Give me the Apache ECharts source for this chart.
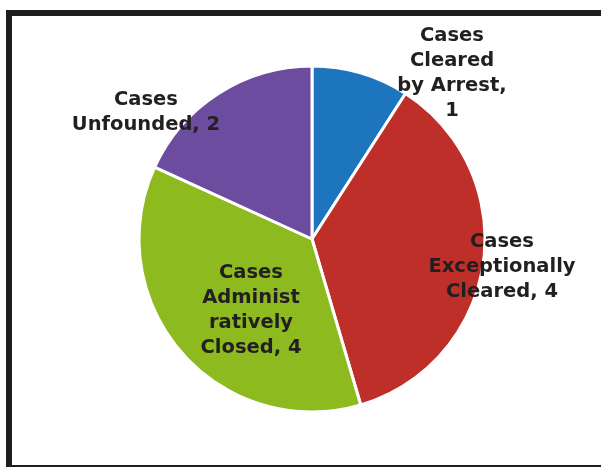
<!DOCTYPE html>
<html>
<head>
<meta charset="utf-8">
<script src="https://cdn.jsdelivr.net/npm/echarts@6/dist/echarts.min.js"></script>
<style>
html,body{margin:0;padding:0;background:#fff;overflow:hidden;}
#chart{position:absolute;left:0;top:0;width:601px;height:467px;}
#frame{position:absolute;left:6px;top:10px;width:640px;height:449px;border:6px solid #1e1e1e;pointer-events:none;}
</style>
</head>
<body>
<div id="chart"></div>
<div id="frame"></div>
<script>
var categories = ['Cases Cleared by Arrest', 'Cases Exceptionally Cleared', 'Cases Administratively Closed', 'Cases Unfounded'];
var values = [1, 4, 4, 2];
var labelTexts = ['Cases\nCleared\nby Arrest,\n1', 'Cases\nExceptionally\nCleared, 4', 'Cases\nAdminist\nratively\nClosed, 4', 'Cases\nUnfounded, 2'];
var colors = ['#1d76bd', '#bf2f2a', '#8cba1f', '#6c4c9e'];

var labelPos = [[452, 73], [502, 267], [251, 310], [146, 112]];

var chart = echarts.init(document.getElementById('chart'));
chart.setOption({
  animation: false,
  series: [{
    type: 'pie',
    center: [312, 239],
    radius: 173,
    startAngle: 90,
    clockwise: true,
    data: categories.map(function (c, i) {
      return { name: c, value: values[i], itemStyle: { color: colors[i] } };
    }),
    itemStyle: { borderColor: '#fff', borderWidth: 3 },
    label: {
      show: true,
      position: 'inside',
      formatter: function (p) { return labelTexts[p.dataIndex]; },
      fontFamily: 'DejaVu Sans',
      fontWeight: 'bold',
      fontSize: 19.5,
      lineHeight: 25,
      color: '#231f20',
      align: 'center'
    },
    labelLine: { show: false },
    labelLayout: function (p) {
      return { x: labelPos[p.dataIndex][0], y: labelPos[p.dataIndex][1], align: 'center', verticalAlign: 'middle' };
    }
  }]
});
</script>
</body>
</html>
